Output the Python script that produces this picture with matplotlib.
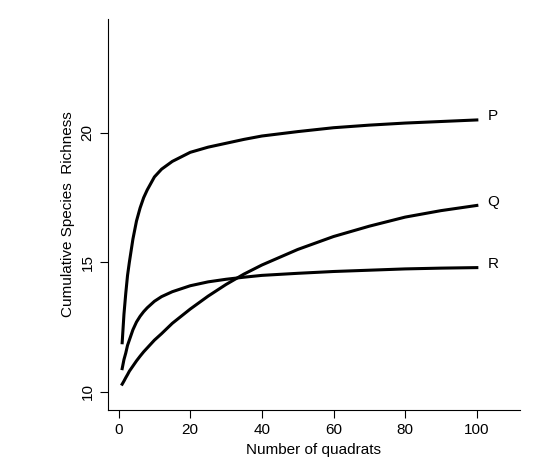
import matplotlib.pyplot as plt

plt.rcParams['font.family'] = ['Liberation Sans', 'DejaVu Sans']

quadrats = [1, 1.5, 2, 2.5, 3, 4, 5, 6, 7, 8, 10, 12, 15, 20, 25, 30, 35, 40, 50, 60, 70, 80, 90, 100]
rich_p = [11.9, 13.0, 13.8, 14.5, 15.0, 15.9, 16.6, 17.1, 17.5, 17.8, 18.3, 18.6, 18.9, 19.25, 19.45, 19.6, 19.75, 19.88, 20.05, 20.2, 20.3, 20.38, 20.44, 20.5]
rich_q = [10.3, 10.42, 10.55, 10.67, 10.8, 11.0, 11.2, 11.38, 11.55, 11.7, 12.0, 12.25, 12.65, 13.2, 13.7, 14.15, 14.55, 14.9, 15.5, 16.0, 16.4, 16.75, 17.0, 17.2]
rich_r = [10.9, 11.25, 11.5, 11.8, 12.0, 12.4, 12.7, 12.92, 13.1, 13.25, 13.5, 13.68, 13.87, 14.1, 14.25, 14.35, 14.43, 14.5, 14.58, 14.65, 14.7, 14.75, 14.78, 14.8]
names = ['P', 'Q', 'R']

fig, ax = plt.subplots(figsize=(5.53, 4.73), dpi=100)
fig.subplots_adjust(left=0.195, right=0.94, bottom=0.133, top=0.96)

for vals, nm in zip([rich_p, rich_q, rich_r], names):
    ax.plot(quadrats, vals, color='black', lw=2.2)
    ax.text(quadrats[-1] + 3, vals[-1] + 0.15, nm, fontsize=11, va='center')

ax.set_xlim(-3, 112)
ax.set_ylim(9.3, 24.4)
ax.set_xticks([0, 20, 40, 60, 80, 100])
ax.set_yticks([10, 15, 20])
ax.tick_params(axis='y', labelrotation=90)
for lbl in ax.get_yticklabels():
    lbl.set_va('center')
ax.tick_params(labelsize=11, length=6)
ax.spines['top'].set_visible(False)
ax.spines['right'].set_visible(False)
ax.set_xlabel('Number of quadrats', fontsize=11)
ax.set_ylabel('Cumulative Species  Richness', fontsize=11)

fig.savefig('out.png')
